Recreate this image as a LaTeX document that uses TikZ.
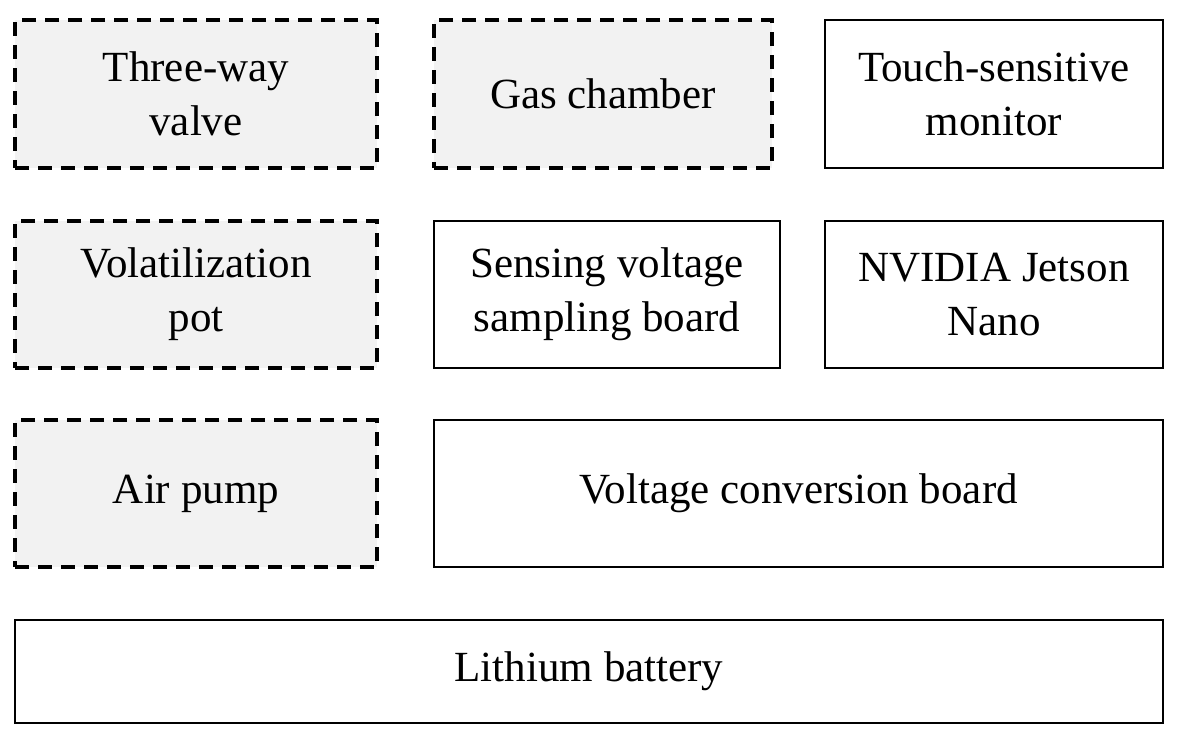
\documentclass[tikz,border=0pt]{standalone}
\usepackage{fontspec}
\setmainfont{Liberation Serif}
\begin{document}
\begin{tikzpicture}[x=1pt,y=-1pt,
  box/.style={draw,line width=2pt,align=center,font=\fontsize{43}{54}\selectfont,inner sep=0pt},
  dbox/.style={box,fill=black!5,dash pattern=on 14pt off 9pt,line width=3.2pt}]
\useasboundingbox (0,0) rectangle (1181,736);
\newcommand{\bx}[6]{\node[#1,minimum width=#4-#2,minimum height=#5-#3] (#6) at ({(#2+#4)/2},{(#3+#5)/2})}
\bx{dbox}{15}{20}{377}{168}{tv} {Three-way\\valve};
\bx{dbox}{434}{20}{772}{168}{gc} {Gas chamber};
\bx{box}{825}{20}{1163}{168}{tm} {Touch-sensitive\\monitor};
\bx{dbox}{15}{221}{377}{368}{vp} {Volatilization\\pot};
\bx{box}{434}{221}{780}{368}{sv} {Sensing voltage\\sampling board};
\bx{box}{825}{221}{1163}{368}{nj} {NVIDIA Jetson\\Nano};
\bx{dbox}{15}{420}{377}{567}{ap} {Air pump};
\bx{box}{434}{420}{1163}{567}{vc} {Voltage conversion board};
\bx{box}{15}{620}{1163}{723}{lb} {Lithium battery};
\end{tikzpicture}
\end{document}
